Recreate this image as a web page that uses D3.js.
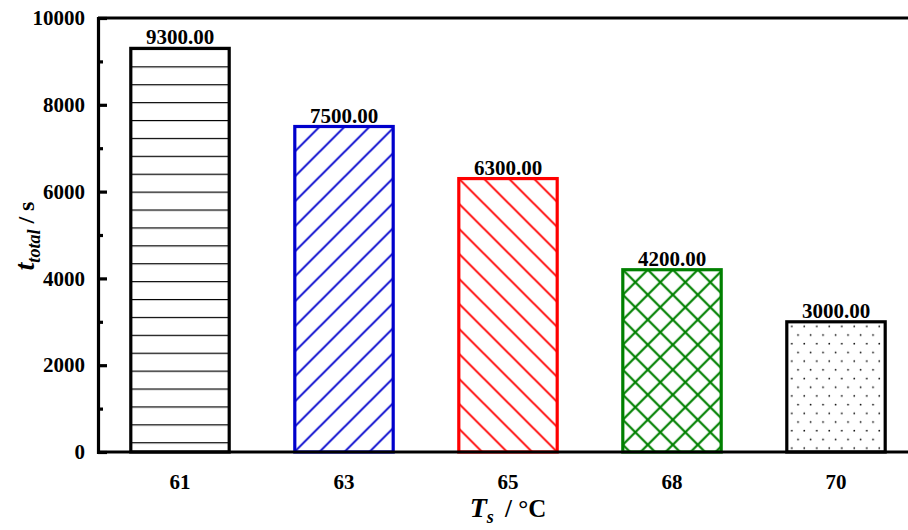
<!DOCTYPE html>
<html><head><meta charset="utf-8">
<script src="https://cdn.jsdelivr.net/npm/d3@7"></script>
<style>body{margin:0;background:#fff}svg{display:block}</style>
</head><body>
<svg id="c" width="908" height="530"></svg>
<script>
const categories = ["61","63","65","68","70"];
const values = [9300,7500,6300,4200,3000];
const colors = ["#000000","#0000cc","#ff0000","#008000","#000000"];
const patterns = ["hline","fdiag","bdiag","cross","dots"];
const yTicks = [0,2000,4000,6000,8000,10000];
const yMinor = [1000,3000,5000,7000,9000];

const svg = d3.select("#c");
const L=98, R=918, T=18, B=452;
const x = d3.scaleBand().domain(categories).range([L,R]).paddingInner(0.4).paddingOuter(0.2);
const y = d3.scaleLinear().domain([0,10000]).range([B,T]);
const font = "'Liberation Serif','Times New Roman',serif";
const defs = svg.append("defs");

categories.forEach((c,i)=>{
  const bx = x(c), by = y(values[i]);
  const col = colors[i];
  const type = patterns[i];
  let p;
  if(type==="hline"){
    p = defs.append("pattern").attr("id","p"+i).attr("patternUnits","userSpaceOnUse")
      .attr("x",bx).attr("y",by).attr("width",20).attr("height",17.9);
    p.append("line").attr("x1",0).attr("x2",20).attr("y1",0).attr("y2",0)
      .attr("stroke",col).attr("stroke-width",2.4);
  } else if(type==="fdiag"||type==="bdiag"||type==="cross"){
    const s = 25;
    p = defs.append("pattern").attr("id","p"+i).attr("patternUnits","userSpaceOnUse")
      .attr("x",bx).attr("y",by).attr("width",s).attr("height",s);
    const f = `M0,${s} L${s},0 M-5,5 L5,-5 M${s-5},${s+5} L${s+5},${s-5}`;
    const b = `M0,0 L${s},${s} M-5,${s-5} L5,${s+5} M${s-5},-5 L${s+5},5`;
    const d = type==="fdiag"?f:type==="bdiag"?b:f+" "+b;
    p.append("path").attr("d",d).attr("stroke",col).attr("stroke-width",type==="cross"?2.2:1.9).attr("fill","none");
  } else {
    p = defs.append("pattern").attr("id","p"+i).attr("patternUnits","userSpaceOnUse")
      .attr("x",bx).attr("y",by).attr("width",12.5).attr("height",17.4);
    p.append("circle").attr("cx",5).attr("cy",4.5).attr("r",0.85).attr("fill",col);
    p.append("circle").attr("cx",11.25).attr("cy",13.2).attr("r",0.85).attr("fill",col);
  }
});

// bars
svg.append("g").selectAll("rect").data(values).join("rect")
  .attr("x",(d,i)=>x(categories[i]))
  .attr("y",d=>y(d))
  .attr("width",x.bandwidth())
  .attr("height",d=>y(0)-y(d))
  .attr("fill","#fff");
svg.append("g").selectAll("rect").data(values).join("rect")
  .attr("x",(d,i)=>x(categories[i]))
  .attr("y",d=>y(d))
  .attr("width",x.bandwidth())
  .attr("height",d=>y(0)-y(d))
  .attr("fill",(d,i)=>`url(#p${i})`)
  .attr("stroke",(d,i)=>colors[i])
  .attr("stroke-width",3.2);

// value labels
svg.append("g").selectAll("text").data(values).join("text")
  .attr("x",(d,i)=>x(categories[i])+x.bandwidth()/2)
  .attr("y",d=>y(d)-4)
  .attr("text-anchor","middle")
  .attr("font-family",font).attr("font-weight","bold").attr("font-size",21)
  .text(d=>d.toFixed(2));

// frame: top line
svg.append("line").attr("x1",L).attr("x2",R).attr("y1",T).attr("y2",T)
  .attr("stroke","#000").attr("stroke-width",3.2);

// y axis
const yAxis = d3.axisLeft(y).tickValues(yTicks).tickSize(-9).tickPadding(13).tickFormat(d3.format("d"));
const gy = svg.append("g").attr("transform",`translate(${L},0)`).call(yAxis);
gy.select(".domain").attr("stroke-width",3.2);
gy.selectAll(".tick line").attr("stroke-width",3.2);
gy.selectAll("text").attr("font-family",font).attr("font-weight","bold").attr("font-size",21).attr("fill","#000");
const gyMinor = svg.append("g").attr("transform",`translate(${L},0)`)
  .call(d3.axisLeft(y).tickValues(yMinor).tickSize(-5).tickFormat(""));
gyMinor.select(".domain").remove();
gyMinor.selectAll(".tick line").attr("stroke-width",3.2);

// x axis
const xAxis = d3.axisBottom(x).tickSize(0).tickPadding(22);
const gx = svg.append("g").attr("transform",`translate(0,${B})`).call(xAxis);
gx.select(".domain").attr("stroke-width",3.2).attr("d",`M${L},0H${R}`);
gx.selectAll("text").attr("font-family",font).attr("font-weight","bold").attr("font-size",21).attr("fill","#000");

// x title
const xt = svg.append("text").attr("x",508).attr("y",517).attr("text-anchor","middle")
  .attr("font-family",font).attr("font-weight","bold").attr("font-size",25);
xt.append("tspan").attr("font-style","italic").attr("font-size",28).text("T");
xt.append("tspan").attr("font-style","italic").attr("font-size",18).attr("dy",6).text("s");
xt.append("tspan").attr("dy",-6).text("\u2009 / °C");

// y title
const yt = svg.append("text").attr("transform","translate(34,236) rotate(-90)").attr("text-anchor","middle")
  .attr("font-family",font).attr("font-weight","bold").attr("font-size",24);
yt.append("tspan").attr("font-style","italic").attr("font-size",28).text("t");
yt.append("tspan").attr("font-style","italic").attr("font-size",18).attr("dy",6).text("total");
yt.append("tspan").attr("dy",-6).text(" / s");
</script>
</body></html>
